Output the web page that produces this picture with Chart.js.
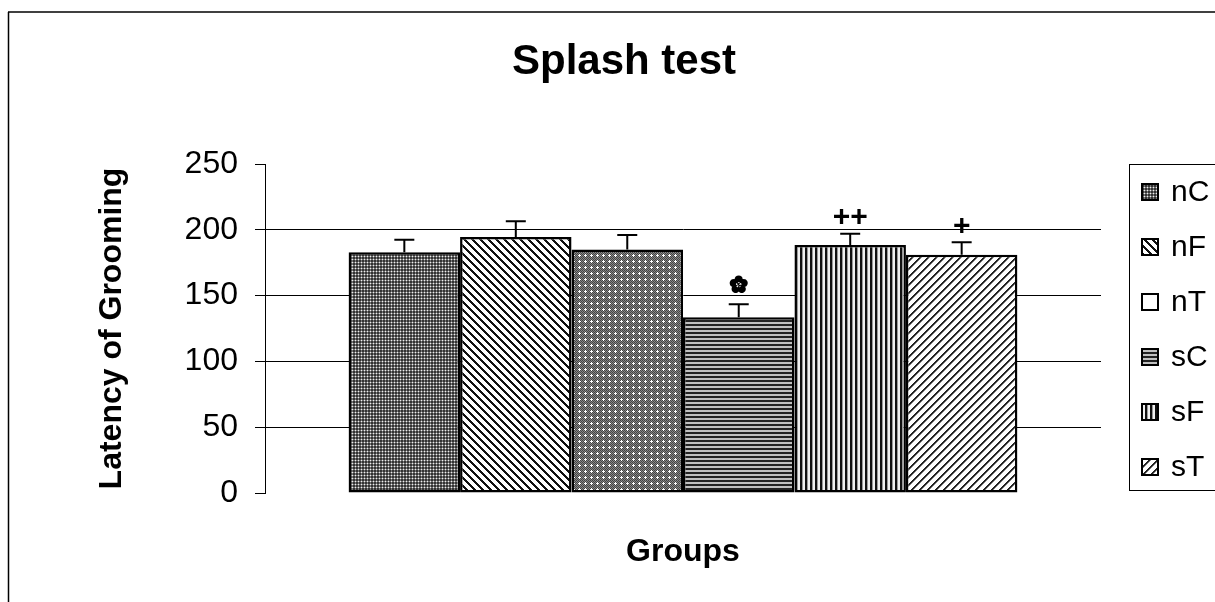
<!DOCTYPE html>
<html lang="en">
<head>
    <meta charset="UTF-8">
    <title>Splash test</title>
    <script src="https://cdn.jsdelivr.net/npm/chart.js"></script>
    <style>
        html, body {
            margin: 0;
            padding: 0;
            background-color: #fff;
        }
    </style>
</head>
<body>
    <canvas id="splashChart" width="1215" height="602"></canvas>

    <script>
        // data
        const groups = ['nC', 'nF', 'nT', 'sC', 'sF', 'sT'];
        const latency = [183, 194.5, 185, 133.5, 188.5, 181];
        const sem = [9.5, 12, 11, 10, 8.5, 9.5];
        const marks = ['', '', '', '✿', '++', '+'];
        const yTicks = [0, 50, 100, 150, 200, 250];

        const FONT = "Arial, 'Liberation Sans', sans-serif";
        Chart.defaults.font.family = FONT;
        Chart.defaults.color = '#000';

        // little tiles for the Excel-like fill patterns
        function makePattern(size, pixel) {
            const c = document.createElement('canvas');
            c.width = size;
            c.height = size;
            const g = c.getContext('2d');
            for (let x = 0; x < size; x++) {
                for (let y = 0; y < size; y++) {
                    g.fillStyle = pixel(x, y);
                    g.fillRect(x, y, 1, 1);
                }
            }
            return g.createPattern(c, 'repeat');
        }

        const fills = [
            // nC: fine dotted gray
            makePattern(3, (x, y) => (x === 1 && y === 1) ? '#eee' : ((x + y) % 2 === 0 ? '#333' : '#777')),
            // nF: wide "\" stripes
            makePattern(8, (x, y) => ((x - y + 16) % 8 < 3) ? '#111' : '#fff'),
            // nT: gray lattice with white crosses
            makePattern(6, (x, y) => {
                if ((x === 3 && y >= 2 && y <= 4) || (y === 3 && x >= 2 && x <= 4)) return '#fff';
                if ((x + y) % 2 === 0) return '#444';
                return '#888';
            }),
            // sC: horizontal lines
            makePattern(4, (x, y) => y < 2 ? '#222' : '#c0c0c0'),
            // sF: vertical lines
            makePattern(5, (x, y) => x < 2 ? '#111' : (x === 2 ? '#999' : '#f0f0f0')),
            // sT: "/" stripes
            makePattern(8, (x, y) => {
                const k = (x + y) % 8;
                if (k < 2) return '#222';
                if (k === 2) return '#888';
                return '#fff';
            })
        ];
        const legendFills = fills.map((f, i) => groups[i] === 'nT' ? '#fff' : f);

        const decor = {
            id: 'decor',
            beforeDraw(chart) {
                const ctx = chart.ctx;
                ctx.save();
                ctx.fillStyle = '#fff';
                ctx.fillRect(0, 0, chart.width, chart.height);
                // outer frame (runs off the picture on the right and bottom)
                ctx.strokeStyle = '#404040';
                ctx.lineWidth = 2;
                ctx.beginPath();
                ctx.moveTo(8, 12);
                ctx.lineTo(chart.width, 12);
                ctx.stroke();
                ctx.strokeStyle = '#000';
                ctx.lineWidth = 1.5;
                ctx.beginPath();
                ctx.moveTo(8.5, 12);
                ctx.lineTo(8.5, chart.height);
                ctx.stroke();
                ctx.restore();
            },
            afterDatasetsDraw(chart) {
                const ctx = chart.ctx;
                const yScale = chart.scales.y;
                ctx.save();
                chart.data.datasets.forEach((ds, i) => {
                    const bar = chart.getDatasetMeta(i).data[0];
                    const top = yScale.getPixelForValue(latency[i] + sem[i]);
                    ctx.strokeStyle = '#000';
                    ctx.lineWidth = 2;
                    ctx.beginPath();
                    ctx.moveTo(bar.x, bar.y);
                    ctx.lineTo(bar.x, top);
                    ctx.moveTo(bar.x - 10, top);
                    ctx.lineTo(bar.x + 10, top);
                    ctx.stroke();

                    if (marks[i]) {
                        ctx.fillStyle = '#000';
                        ctx.textAlign = 'center';
                        ctx.textBaseline = 'middle';
                        if (marks[i] === '✿') {
                            ctx.font = "22px 'DejaVu Sans'";
                            ctx.lineWidth = 2;
                            ctx.strokeText(marks[i], bar.x, top - 18);
                            ctx.fillText(marks[i], bar.x, top - 18);
                        } else {
                            ctx.font = 'bold 30px ' + FONT;
                            ctx.fillText(marks[i], bar.x, top - 16);
                        }
                    }
                });
                ctx.restore();
            },
            afterDraw(chart) {
                const ctx = chart.ctx;
                ctx.save();
                // chart title, sitting a bit right of the plot centre as in the original
                ctx.fillStyle = '#000';
                ctx.font = 'bold 42px ' + FONT;
                ctx.textAlign = 'center';
                ctx.textBaseline = 'middle';
                ctx.fillText('Splash test', 624, 62);

                // legend box on the right
                const left = chart.chartArea.right + 28;
                ctx.strokeStyle = '#000';
                ctx.lineWidth = 1;
                ctx.strokeRect(left + 0.5, 164.5, 120, 326);
                ctx.font = '30px ' + FONT;
                ctx.textAlign = 'left';
                groups.forEach((name, i) => {
                    const cy = 192 + 55 * i;
                    ctx.fillStyle = legendFills[i];
                    ctx.fillRect(left + 13, cy - 8, 16, 16);
                    ctx.lineWidth = 2;
                    ctx.strokeRect(left + 13, cy - 8, 16, 16);
                    ctx.fillStyle = '#000';
                    ctx.fillText(name, left + 42, cy + 1);
                });
                ctx.restore();
            }
        };

        const ctx = document.getElementById('splashChart').getContext('2d');
        new Chart(ctx, {
            type: 'bar',
            data: {
                labels: [''],
                datasets: groups.map((name, i) => ({
                    label: name,
                    data: [latency[i]],
                    backgroundColor: fills[i],
                    borderColor: '#000',
                    borderWidth: 2.5,
                    borderSkipped: false,
                    barPercentage: 1,
                    categoryPercentage: 0.8
                }))
            },
            options: {
                responsive: false,
                animation: false,
                layout: {
                    padding: { top: 164, left: 70, right: 114, bottom: 0 }
                },
                plugins: {
                    legend: { display: false },
                    tooltip: { enabled: false },
                    title: { display: false }
                },
                scales: {
                    x: {
                        ticks: { display: false },
                        grid: { display: false },
                        border: { display: false },
                        title: {
                            display: true,
                            text: 'Groups',
                            color: '#000',
                            font: { size: 32, weight: 'bold' },
                            padding: { top: 0, bottom: 31 }
                        },
                        afterFit(scale) { scale.height = 109; }
                    },
                    y: {
                        min: 0,
                        max: 250,
                        afterBuildTicks(scale) {
                            scale.ticks = yTicks.map(v => ({ value: v }));
                        },
                        ticks: {
                            color: '#000',
                            font: { size: 32 },
                            padding: 17
                        },
                        border: { display: true, color: '#000', width: 1 },
                        grid: {
                            color: c => (c.tick && (c.tick.value === 0 || c.tick.value === 250)) ? 'rgba(0,0,0,0)' : '#000',
                            tickColor: '#000',
                            tickLength: 10,
                            lineWidth: 1
                        },
                        title: {
                            display: true,
                            text: 'Latency of Grooming',
                            color: '#000',
                            font: { size: 32, weight: 'bold' },
                            padding: { top: 23, bottom: 0 }
                        },
                        afterFit(scale) { scale.width = 195; }
                    }
                }
            },
            plugins: [decor]
        });
    </script>
</body>
</html>
